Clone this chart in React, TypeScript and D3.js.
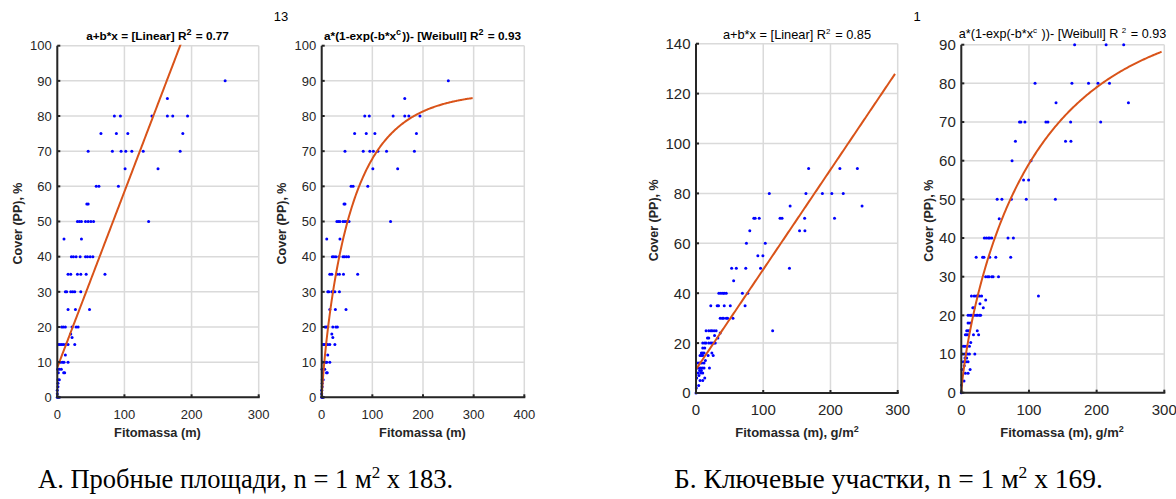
import React from "react";
import * as d3 from "d3";

// ---------- DATA ----------
// Panel A (Пробные площади): phytomass vs cover
const massA = [
  250, 164, 85, 94, 141, 164, 172, 194, 65, 88, 105, 187,
  46, 82, 95, 102, 111, 128, 183, 101, 150, 58, 62, 91, 44, 46,
  30, 33, 36, 42, 46, 50, 54, 136, 10, 36,
  21, 24, 28, 34, 42, 45, 49, 53, 16, 20, 30, 35, 43, 71,
  12, 14, 20, 23, 26, 35, 16, 27, 48, 6.5, 9, 12, 22, 28, 31,
  20, 22, 2, 4, 6.5, 9, 12, 16, 26, 12, 2, 5, 8, 10, 16,
  0.5, 3, 6, 1.5, 9.5, 11, 1, 3, 1, 1, 0, 0, 0, 1, 3,
];
const coverA = [
  90, 85, 80, 80, 80, 80, 80, 80, 75, 75, 75, 75,
  70, 70, 70, 70, 70, 70, 70, 65, 65, 60, 60, 60, 55, 55,
  50, 50, 50, 50, 50, 50, 50, 50, 45, 45,
  40, 40, 40, 40, 40, 40, 40, 40, 35, 35, 35, 35, 35, 35,
  30, 30, 30, 30, 30, 30, 25, 25, 25, 20, 20, 20, 20, 20, 20,
  18, 17, 15, 15, 15, 15, 15, 15, 15, 12, 10, 10, 10, 10, 10,
  8, 8, 8, 7, 7, 7, 5, 5, 4, 3, 2, 1, 0, 0, 0,
];

// Panel B (Ключевые участки)
const massB = [
  167.5, 214, 240, 109, 163.5, 188, 202, 219, 140, 247,
  86, 88, 94, 125, 128, 161.6, 206, 80, 154, 162, 75, 103, 92, 99.5,
  53, 60, 74, 96, 139, 56, 34, 37, 40, 42, 45, 69, 77,
  22, 31.5, 33.5, 42, 51, 73, 36, 39, 41, 45, 47, 55,
  15, 19, 22, 24, 27, 30, 114, 36, 27.6, 17, 19, 32.5,
  10, 13, 15, 19, 22, 24, 27, 28.6, 10, 13, 8, 10, 12, 23.6,
  6, 8, 10, 18, 25.6, 14, 3, 5.4, 8.4, 12, 2, 4.4, 7, 9.4, 12, 20,
  5.4, 8, 3, 7, 10, 4.4, 1, 13, 6, 10, 4, 0.5, 0,
];
const coverB = [
  90, 90, 90, 80, 80, 80, 80, 80, 75, 75,
  70, 70, 70, 70, 70, 70, 70, 65, 65, 65, 60, 60, 55, 55,
  50, 50, 50, 50, 50, 45, 40, 40, 40, 40, 40, 40, 40,
  35, 35, 35, 35, 35, 35, 30, 30, 30, 30, 30, 30,
  25, 25, 25, 25, 25, 25, 25, 24, 23, 22, 22, 22,
  20, 20, 20, 20, 20, 20, 20, 20, 18, 18, 16, 16, 16, 16,
  15, 15, 15, 15, 15, 13, 12, 12, 12, 12, 10, 10, 10, 10, 10, 10,
  9, 9, 8, 8, 8, 7, 6, 6, 5, 5, 3, 2, 0,
];

// Fit parameters
const linA = [8.5, 0.5]; // a, b
const weibA = [87, 0.0302, 0.85]; // a, b, c
const linB = [9.5, 0.4];
const weibB = [100, 0.0225, 0.8];

// Ticks
const xTicks300 = [0, 100, 200, 300];
const xTicks400 = [0, 100, 200, 300, 400];
const yTicks100 = [0, 10, 20, 30, 40, 50, 60, 70, 80, 90, 100];
const yTicks140 = [0, 20, 40, 60, 80, 100, 120, 140];
const yTicks90 = [0, 10, 20, 30, 40, 50, 60, 70, 80, 90];

// ---------- RENDER ----------
const FONT = "Arial, 'Liberation Sans', sans-serif";
const SERIF = "'Liberation Serif', 'Times New Roman', serif";
const AXIS = "#262626";
const GRID = "#dadada";
const FIT = "#d95319";

type PanelProps = {
  left: number; right: number; top: number; bottom: number;
  xMax: number; yMax: number; xTicks: number[]; yTicks: number[];
  xs: number[]; ys: number[];
  fit: (x: number) => number; fitEnd: number;
  title: React.ReactNode; titleX: number; titleY: number; titleBold: boolean; titleFont: number;
  xLabel: React.ReactNode; labelX: number; labelFont: number; yLabelX: number;
  tickFont: number;
};

function Panel(p: PanelProps) {
  const x = d3.scaleLinear().domain([0, p.xMax]).range([p.left, p.right]);
  const y = d3.scaleLinear().domain([0, p.yMax]).range([p.bottom, p.top]);
  const n = 200;
  const pts: [number, number][] = d3.range(n + 1).map((i) => {
    const xv = (p.fitEnd * i) / n;
    return [xv, p.fit(xv)];
  });
  const line = d3.line<[number, number]>().x((d) => x(d[0])).y((d) => y(d[1]));
  const clipId = `clip-${Math.round(p.left)}`;
  return (
    <g>
      <defs>
        <clipPath id={clipId}>
          <rect x={p.left} y={p.top - 1} width={p.right - p.left + 2} height={p.bottom - p.top + 2} />
        </clipPath>
      </defs>
      {p.yTicks.map((t) => (
        <line key={"gy" + t} x1={p.left} x2={p.right} y1={y(t)} y2={y(t)} stroke={GRID} strokeWidth={1.5} />
      ))}
      {p.xTicks.map((t) => (
        <line key={"gx" + t} x1={x(t)} x2={x(t)} y1={p.top} y2={p.bottom} stroke={GRID} strokeWidth={1.5} />
      ))}
      {p.xs.map((xv, i) => (
        <circle key={"p" + i} cx={x(xv)} cy={y(p.ys[i])} r={1.5} fill="#0000ff" />
      ))}
      <path d={line(pts) || ""} fill="none" stroke={FIT} strokeWidth={2} clipPath={`url(#${clipId})`} />
      <line x1={p.left} x2={p.left} y1={p.top} y2={p.bottom} stroke={AXIS} strokeWidth={2} />
      <line x1={p.left - 1} x2={p.right + 1} y1={p.bottom} y2={p.bottom} stroke={AXIS} strokeWidth={2} />
      {p.yTicks.map((t) => (
        <g key={"ty" + t}>
          <line x1={p.left} x2={p.left + 3} y1={y(t)} y2={y(t)} stroke={AXIS} strokeWidth={2} />
          <text x={p.left - 5.5} y={y(t)} dy="0.36em" textAnchor="end" fontSize={p.tickFont} fill={AXIS} fontFamily={FONT}>{t}</text>
        </g>
      ))}
      {p.xTicks.map((t) => (
        <g key={"tx" + t}>
          <line x1={x(t)} x2={x(t)} y1={p.bottom} y2={p.bottom - 3} stroke={AXIS} strokeWidth={2} />
          <text x={x(t)} y={p.bottom + 22} textAnchor="middle" fontSize={p.tickFont} fill={AXIS} fontFamily={FONT}>{t}</text>
        </g>
      ))}
      <text x={p.titleX} y={p.titleY} textAnchor="middle" fontSize={p.titleFont} fontWeight={p.titleBold ? "bold" : "normal"} fill="#000" fontFamily={FONT}>{p.title}</text>
      <text x={p.labelX} y={437} textAnchor="middle" fontSize={p.labelFont} fontWeight="bold" fill={AXIS} fontFamily={FONT}>{p.xLabel}</text>
      <text transform={`translate(${p.yLabelX},${(p.top + p.bottom) / 2 + 2}) rotate(-90)`} textAnchor="middle" fontSize={12.5} fontWeight="bold" fill={AXIS} fontFamily={FONT}>Cover (PP), %</text>
    </g>
  );
}

const Sup = ({ s, size }: { s: string; size: number }) => (
  <>
    <tspan dy={-5} fontSize={size}>{s}</tspan>
    <tspan dy={5}>{"\u200a"}</tspan>
  </>
);

export default function App() {
  const linFnA = (v: number) => linA[0] + linA[1] * v;
  const weibFnA = (v: number) => weibA[0] * (1 - Math.exp(-weibA[1] * Math.pow(v, weibA[2])));
  const linFnB = (v: number) => linB[0] + linB[1] * v;
  const weibFnB = (v: number) => weibB[0] * (1 - Math.exp(-weibB[1] * Math.pow(v, weibB[2])));
  return (
    <svg width={1176} height={499} style={{ position: "absolute", left: 0, top: 0, background: "#fff" }}>
      <rect x={0} y={0} width={1176} height={499} fill="#fff" />
      <text x={281} y={21} textAnchor="middle" fontSize={13} fill="#000" fontFamily={FONT}>13</text>
      <text x={917} y={21} textAnchor="middle" fontSize={13} fill="#000" fontFamily={FONT}>1</text>

      <Panel left={57.3} right={258.7} top={45.7} bottom={397.3} xMax={300} yMax={100}
        xTicks={xTicks300} yTicks={yTicks100} xs={massA} ys={coverA}
        fit={linFnA} fitEnd={300}
        title={<>{"a+b*x = [Linear] R"}<Sup s="2" size={9} />{" =  0.77"}</>} titleX={157.5} titleY={39.5} titleBold={true} titleFont={11.8}
        xLabel="Fitomassa (m)" labelX={157.5} labelFont={12.8} yLabelX={22} tickFont={13} />

      <Panel left={321.7} right={524.3} top={45.7} bottom={397.3} xMax={400} yMax={100}
        xTicks={xTicks400} yTicks={yTicks100} xs={massA} ys={coverA}
        fit={weibFnA} fitEnd={298}
        title={<>{"a*(1-exp(-b*x"}<Sup s="c" size={9} />{"))- [Weibull] R"}<Sup s="2" size={9} />{" =  0.93"}</>} titleX={422.5} titleY={39.5} titleBold={true} titleFont={11.8}
        xLabel="Fitomassa (m)" labelX={422.5} labelFont={12.8} yLabelX={286} tickFont={13} />

      <Panel left={696} right={897.7} top={43.7} bottom={393} xMax={300} yMax={140}
        xTicks={xTicks300} yTicks={yTicks140} xs={massB} ys={coverB}
        fit={linFnB} fitEnd={296}
        title={<>{"a+b*x = [Linear] R"}<Sup s="2" size={8} />{"  =  0.85"}</>} titleX={797} titleY={38.5} titleBold={false} titleFont={12.8}
        xLabel={<>{"Fitomassa (m), g/m"}<tspan dy={-5} fontSize={9}>2</tspan></>} labelX={797} labelFont={13} yLabelX={658} tickFont={15} />

      <Panel left={961.3} right={1164.3} top={44.7} bottom={392.7} xMax={300} yMax={90}
        xTicks={xTicks300} yTicks={yTicks90} xs={massB} ys={coverB}
        fit={weibFnB} fitEnd={296}
        title={<>{"a*(1-exp(-b*x"}<Sup s="c" size={8} />{" ))- [Weibull] R "}<Sup s="2" size={8} />{" =  0.93"}</>} titleX={1062.5} titleY={37.5} titleBold={false} titleFont={12.6}
        xLabel={<>{"Fitomassa (m), g/m"}<tspan dy={-5} fontSize={9}>2</tspan></>} labelX={1062} labelFont={13} yLabelX={933} tickFont={15} />

      <text x={38} y={488} fontSize={26.5} fill="#000" fontFamily={SERIF}>
        {"А. Пробные площади, n = 1 м"}<tspan dy={-10} fontSize={17}>2</tspan><tspan dy={10}>{" х 183."}</tspan>
      </text>
      <text x={674} y={488} fontSize={27.5} fill="#000" fontFamily={SERIF}>
        {"Б. Ключевые участки, n = 1 м"}<tspan dy={-10} fontSize={17.5}>2</tspan><tspan dy={10}>{" х 169."}</tspan>
      </text>
    </svg>
  );
}
